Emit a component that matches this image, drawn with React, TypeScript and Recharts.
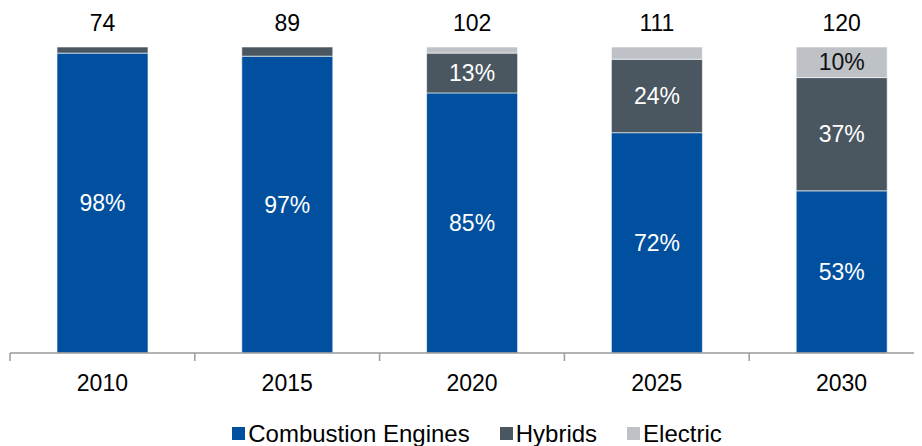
import { BarChart, Bar, XAxis, YAxis, Legend, LabelList } from 'recharts'

const years = ['2010', '2015', '2020', '2025', '2030']
const totals = [74, 89, 102, 111, 120]
const combustion = [98, 97, 85, 72, 53]
const hybrids = [2, 3, 13, 24, 37]
const electric = [0, 0, 2, 4, 10]

const series = [
    { key: 'Combustion Engines', color: '#00509f', text: '#ffffff' },
    { key: 'Hybrids', color: '#4a5660', text: '#ffffff' },
    { key: 'Electric', color: '#bec2c6', text: '#111111' },
]

const W = 940
const H = 438
const M = { top: 39, right: 14, left: 2, bottom: 0 }
const BAND = (W - M.left - M.right) / years.length
const FONT = '"Liberation Sans", Arial, sans-serif'

const data = years.map((year, i) => ({
    year,
    total: totals[i],
    'Combustion Engines': combustion[i],
    Hybrids: hybrids[i],
    Electric: electric[i],
}))

function YearTick(props: any) {
    const { x, y, payload, index } = props
    const left = x - BAND / 2
    return (
        <g>
            <line x1={left} y1={y} x2={left} y2={y + 8} stroke="#9a9a9a" strokeWidth={1.5} />
            {index === years.length - 1 && (
                <line x1={x + BAND / 2} y1={y} x2={x + BAND / 2} y2={y + 8} stroke="#9a9a9a" strokeWidth={1.5} />
            )}
            <text x={x} y={y + 30} dy="0.35em" textAnchor="middle" fontSize={23} fontFamily={FONT} fill="#000">
                {payload.value}
            </text>
        </g>
    )
}

const pctLabel = (fill: string) => (props: any) => {
    const { x, y, width, height, value } = props
    if (value < 10) return null
    return (
        <text x={x + width / 2} y={y + height / 2} dy="0.35em" textAnchor="middle" fontSize={23} fontFamily={FONT} fill={fill}>
            {value}%
        </text>
    )
}

// drawn from the combustion segment: stack top = bottom - height * 100 / share
function TotalLabel(props: any) {
    const { x, y, width, height, index } = props
    const bottom = y + height
    const top = bottom - (height * 100) / combustion[index]
    return (
        <text x={x + width / 2} y={top - 24} dy="0.35em" textAnchor="middle" fontSize={23} fontFamily={FONT} fill="#000">
            {totals[index]}
        </text>
    )
}

function LegendBox() {
    return (
        <div style={{ height: 43, paddingTop: 18, paddingLeft: 10, boxSizing: 'border-box', display: 'flex', justifyContent: 'center', fontFamily: FONT, fontSize: 24, lineHeight: '24px' }}>
            {series.map(s => (
                <div key={s.key} style={{ display: 'flex', alignItems: 'center', margin: '0 15px' }}>
                    <span style={{ width: 13, height: 13, background: s.color, marginRight: 3, display: 'inline-block' }} />
                    <span style={{ color: '#000' }}>{s.key}</span>
                </div>
            ))}
        </div>
    )
}

export default function App() {
    return (
        <div style={{ width: 914, height: H, overflow: 'hidden' }}>
            <BarChart width={W} height={H} data={data} margin={M} barSize={91}>
                <XAxis
                    dataKey="year"
                    height={50}
                    stroke="#9a9a9a"
                    strokeWidth={1.5}
                    tickLine={false}
                    tickSize={0}
                    tickMargin={0}
                    tick={<YearTick />}
                    interval={0}
                />
                <YAxis hide domain={[0, 100]} />
                <Legend verticalAlign="bottom" content={<LegendBox />} />
                {series.map((s, i) => (
                    <Bar key={s.key} dataKey={s.key} stackId="a" fill={s.color} stroke="#ffffff" strokeWidth={0.6} isAnimationActive={false}>
                        <LabelList dataKey={s.key} content={pctLabel(s.text)} />
                        {i === 0 && <LabelList dataKey="total" content={<TotalLabel />} />}
                    </Bar>
                ))}
            </BarChart>
        </div>
    )
}
